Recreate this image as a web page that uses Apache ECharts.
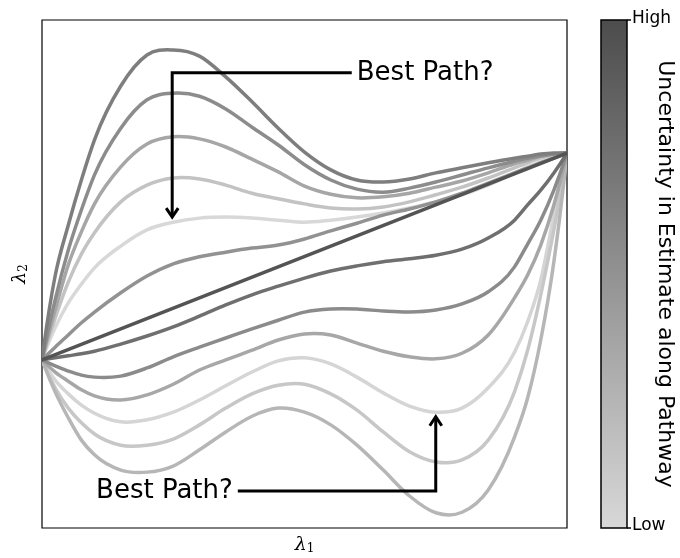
<!DOCTYPE html>
<html>
<head>
<meta charset="utf-8">
<script src="https://cdn.jsdelivr.net/npm/echarts@6/dist/echarts.min.js"></script>
<style>
  html, body { margin: 0; padding: 0; background: #ffffff; }
  #chart { width: 680px; height: 558px; }
</style>
</head>
<body>
<div id="chart"></div>
<script>
// Candidate pathways in the (λ1, λ2) plane, all running from (0, 33.1) to (100, 73.8).
// λ1 positions at which each pathway's λ2 value is listed
const lambda1 = [0, 2.5, 5, 7.5, 10, 15, 20, 25, 30, 35, 40, 45, 50, 55, 60, 65, 70, 75, 80, 85, 90, 92.5, 95, 97.5, 100];

// Paths that bulge above the direct route
const upper1 = [33.1,49.6,59.6,68.5,76.4,87.0,93.1,94.1,92.9,88.8,83.9,78.7,74.0,70.5,68.5,68.1,68.7,69.9,70.9,71.9,72.8,73.2,73.6,73.8,73.8];
const upper2 = [33.1,44.9,54.7,62.6,69.5,78.7,84.3,85.6,85.0,82.5,78.9,75.4,71.5,68.5,66.7,66.1,66.9,68.1,69.5,70.9,72.2,72.8,73.2,73.6,73.8];
const upper3 = [33.1,42.9,51.8,58.3,63.8,71.1,75.6,77.0,76.6,75.0,72.6,70.1,67.3,65.7,65.0,65.2,65.9,67.1,68.3,69.9,71.7,72.4,73.2,73.6,73.8];
const upper4 = [33.1,41.3,48.4,53.9,58.1,64.2,67.5,68.9,68.7,67.5,65.9,64.8,63.8,63.0,62.8,63.2,64.2,65.6,67.1,68.9,70.9,71.9,72.8,73.4,73.8];
const upper5 = [33.1,39.4,44.3,48.0,51.2,55.5,58.7,60.2,61.0,61.2,61.0,60.6,60.2,60.6,61.2,62.0,63.0,64.2,65.6,67.5,69.9,71.1,72.0,73.0,73.8];
const upper6 = [33.1,35.6,38.0,40.4,42.5,46.3,49.6,52.0,53.4,54.3,55.1,55.7,56.9,58.5,60.0,61.6,62.8,64.2,65.9,67.9,69.9,70.9,71.9,72.8,73.8];
// Direct route (λ1, λ2 end points)
const direct = [[0, 33.1], [100, 73.8]];
// Paths that dip below the direct route
const lower1 = [33.1,33.5,33.9,34.3,34.8,36.2,37.8,39.6,41.7,43.9,45.9,47.6,49.2,50.6,51.6,52.4,53.0,53.7,54.9,57.1,60.6,63.6,66.5,69.9,73.8];
const lower2 = [33.1,31.9,30.9,30.1,29.7,29.9,31.5,33.7,35.6,37.4,39.2,40.9,42.5,43.1,43.1,42.7,42.5,42.9,44.1,46.5,51.4,55.9,60.6,66.5,73.8];
const lower3 = [33.1,30.7,28.9,27.2,26.0,25.2,26.2,28.3,31.1,33.1,35.0,37.0,38.2,38.0,36.4,34.8,33.7,33.3,34.4,38.0,45.3,49.8,55.7,63.6,73.8];
const lower4 = [33.1,29.1,26.4,24.2,22.6,20.9,21.3,22.8,25.2,28.0,30.7,32.9,33.5,32.3,29.7,26.6,24.0,22.8,23.6,27.6,34.6,40.6,48.8,61.6,73.8];
const lower5 = [33.1,27.6,23.6,20.7,18.5,16.3,16.3,17.5,20.3,23.6,26.4,28.1,28.3,26.4,23.2,18.9,15.0,13.0,13.4,17.3,26.8,35.0,45.9,58.7,73.8];
const lower6 = [33.1,26.8,21.7,17.3,14.4,11.4,11.0,12.2,15.4,18.9,22.0,23.6,22.8,20.3,16.3,11.4,6.3,3.0,3.1,7.5,17.9,25.6,37.0,52.4,73.8];

const pathways    = [upper1, upper2, upper3, upper4, upper5, upper6, direct, lower1, lower2, lower3, lower4, lower5, lower6];
// Uncertainty in the estimate along each pathway (0 = Low, 1 = High)
const uncertainty = [0.64,   0.54,   0.36,   0.15,   0.00,   0.50,   0.94,   0.75,   0.55,   0.35,   0.02,   0.12,   0.24];

// Arrow annotations: label anchor, elbow and arrow tip (data coordinates)
const noteTop    = { text: 'Best Path?', label: [59.0, 89.6], corner: [24.8, 89.6], tip: [24.8, 61.2] };
const noteBottom = { text: 'Best Path?', label: [37.3, 7.3],  corner: [75.0, 7.3],  tip: [75.0, 21.9] };

const colorbarLabels = ['High', 'Low'];
const colorbarTitle = 'Uncertainty in Estimate along Pathway';

const GRAY_LOW = 216, GRAY_HIGH = 76;
function grayFor(u) {
  const g = Math.round(GRAY_LOW + (GRAY_HIGH - GRAY_LOW) * u);
  return 'rgb(' + g + ',' + g + ',' + g + ')';
}

function toPoints(path) {
  return Array.isArray(path[0]) ? path : path.map((v, k) => [lambda1[k], v]);
}

// Smooth curve through pixel points (cubic Hermite in x, three-point tangents)
function curvePath(pts) {
  const n = pts.length;
  const f = v => v.toFixed(2);
  if (n === 2) return 'M' + f(pts[0][0]) + ' ' + f(pts[0][1]) + 'L' + f(pts[1][0]) + ' ' + f(pts[1][1]);
  const h = [], d = [], m = [];
  for (let k = 0; k < n - 1; k++) {
    h.push(pts[k + 1][0] - pts[k][0]);
    d.push((pts[k + 1][1] - pts[k][1]) / h[k]);
  }
  for (let k = 0; k < n; k++) {
    if (k === 0) m.push(((2 * h[0] + h[1]) * d[0] - h[0] * d[1]) / (h[0] + h[1]));
    else if (k === n - 1) m.push(((2 * h[n - 2] + h[n - 3]) * d[n - 2] - h[n - 2] * d[n - 3]) / (h[n - 2] + h[n - 3]));
    else m.push((h[k] * d[k - 1] + h[k - 1] * d[k]) / (h[k - 1] + h[k]));
  }
  let s = 'M' + f(pts[0][0]) + ' ' + f(pts[0][1]);
  for (let k = 0; k < n - 1; k++) {
    const t = h[k] / 3;
    s += 'C' + f(pts[k][0] + t) + ' ' + f(pts[k][1] + m[k] * t) + ' '
             + f(pts[k + 1][0] - t) + ' ' + f(pts[k + 1][1] - m[k + 1] * t) + ' '
             + f(pts[k + 1][0]) + ' ' + f(pts[k + 1][1]);
  }
  return s;
}

const GRID = { left: 42, top: 20, width: 525, height: 508 };

// lighter (more certain) paths first so darker ones sit on top
const order = uncertainty.map((u, i) => i).sort((a, b) => uncertainty[a] - uncertainty[b]);

const chart = echarts.init(document.getElementById('chart'), null, { renderer: 'canvas' });

const sub = { fontFamily: 'DejaVu Serif', fontSize: 12, color: '#000', padding: [8, 0, 0, 0] };
const lam = { fontFamily: 'DejaVu Serif', fontStyle: 'italic', fontSize: 19, color: '#000' };

chart.setOption({
  animation: false,
  backgroundColor: '#ffffff',
  grid: { left: GRID.left, top: GRID.top, width: GRID.width, height: GRID.height,
          outerBoundsMode: 'none', containLabel: false,
          show: true, borderColor: '#000', borderWidth: 1.2, backgroundColor: 'transparent' },
  xAxis: {
    type: 'value', min: 0, max: 100,
    axisLine: { show: false }, axisTick: { show: false }, axisLabel: { show: false }, splitLine: { show: false },
    name: '{l|λ}{s|1}', nameLocation: 'middle', nameGap: 7,
    nameTextStyle: { rich: { l: lam, s: sub } }
  },
  yAxis: {
    type: 'value', min: 0, max: 100,
    axisLine: { show: false }, axisTick: { show: false }, axisLabel: { show: false }, splitLine: { show: false },
    name: '{l|λ}{s|2}', nameLocation: 'middle', nameGap: 12, nameRotate: 90,
    nameTextStyle: { rich: { l: lam, s: sub } }
  },
  series: [{
    type: 'custom',
    coordinateSystem: 'cartesian2d',
    silent: true,
    clip: true,
    data: order.map(i => [50, 50, i]),
    renderItem: function (params, api) {
      const i = api.value(2);
      const pts = toPoints(pathways[i]).map(p => api.coord(p));
      return {
        type: 'path',
        shape: { pathData: curvePath(pts) },
        style: { fill: 'none', stroke: grayFor(uncertainty[i]), lineWidth: 3.5, lineCap: 'round', lineJoin: 'round' }
      };
    },
    z: 2
  }]
});

function px(p) { return chart.convertToPixel({ gridIndex: 0 }, p); }

function arrowGraphics(note, labelSide) {
  const a = px(note.label), c = px(note.corner), t = px(note.tip);
  const up = t[1] < c[1];
  const hw = 6, hl = 9;
  const headY = up ? t[1] + hl : t[1] - hl;
  return [
    { type: 'polyline', shape: { points: [a, c, [t[0], up ? t[1] + 1 : t[1] - 1]] },
      style: { stroke: '#000', lineWidth: 3, fill: null, lineJoin: 'miter' }, z: 10 },
    { type: 'polyline', shape: { points: [[t[0] - hw, headY], t, [t[0] + hw, headY]] },
      style: { stroke: '#000', lineWidth: 3, fill: null, lineJoin: 'miter' }, z: 10 },
    { type: 'text', x: labelSide === 'right' ? a[0] + 5 : a[0] - 5, y: a[1],
      style: { text: note.text, fontFamily: 'DejaVu Sans', fontSize: 26, fill: '#000',
               align: labelSide === 'right' ? 'left' : 'right', verticalAlign: 'middle' }, z: 10 }
  ];
}

// Colour bar to the right of the plot
const bx = 601, by = GRID.top, bw = 26, bh = GRID.height;
const colorbar = [
  { type: 'rect', shape: { x: bx, y: by, width: bw, height: bh },
    style: { fill: new echarts.graphic.LinearGradient(0, 0, 0, 1, [
      { offset: 0, color: grayFor(1) }, { offset: 1, color: grayFor(0) } ]),
      stroke: '#000', lineWidth: 1.5 }, z: 5 },
  { type: 'line', shape: { x1: bx + bw, y1: by, x2: bx + bw + 4, y2: by }, style: { stroke: '#000', lineWidth: 1.5 }, z: 5 },
  { type: 'line', shape: { x1: bx + bw, y1: by + bh, x2: bx + bw + 4, y2: by + bh }, style: { stroke: '#000', lineWidth: 1.5 }, z: 5 },
  { type: 'text', x: bx + bw + 5, y: by - 1,
    style: { text: colorbarLabels[0], fontFamily: 'DejaVu Sans', fontSize: 17, fill: '#000', align: 'left', verticalAlign: 'middle' } },
  { type: 'text', x: bx + bw + 5, y: by + bh - 2,
    style: { text: colorbarLabels[1], fontFamily: 'DejaVu Sans', fontSize: 17, fill: '#000', align: 'left', verticalAlign: 'middle' } },
  { type: 'text', x: 665, y: by + bh / 2, rotation: -Math.PI / 2,
    style: { text: colorbarTitle, fontFamily: 'DejaVu Sans', fontSize: 22, fill: '#000', align: 'center', verticalAlign: 'middle' } }
];

chart.setOption({
  graphic: { elements: arrowGraphics(noteTop, 'right').concat(arrowGraphics(noteBottom, 'left'), colorbar) }
});
</script>
</body>
</html>
